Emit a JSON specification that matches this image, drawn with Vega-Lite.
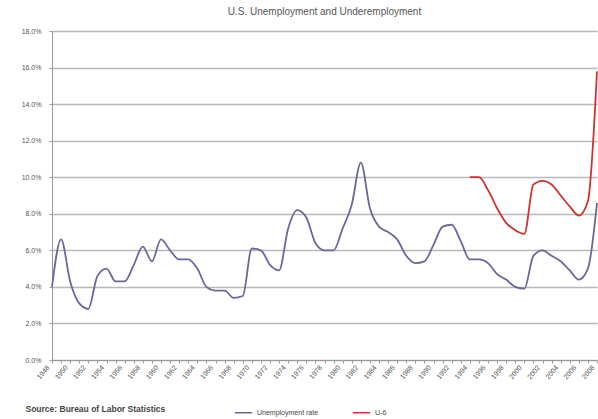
{
  "$schema": "https://vega.github.io/schema/vega-lite/v6.json",
  "autosize": {"type": "none"},
  "width": 545,
  "height": 329,
  "padding": {"left": 52, "top": 31, "right": 1, "bottom": 59},
  "background": "white",
  "title": {
    "text": "U.S. Unemployment and Underemployment",
    "anchor": "middle",
    "fontSize": 10,
    "fontWeight": "normal",
    "font": "Liberation Sans",
    "color": "#555555",
    "offset": 10
  },
  "data": {
    "values": [
      {"year": "1948", "series": "Unemployment rate", "value": 4.0},
      {"year": "1949", "series": "Unemployment rate", "value": 6.6},
      {"year": "1950", "series": "Unemployment rate", "value": 4.3},
      {"year": "1951", "series": "Unemployment rate", "value": 3.1},
      {"year": "1952", "series": "Unemployment rate", "value": 2.8},
      {"year": "1953", "series": "Unemployment rate", "value": 4.6},
      {"year": "1954", "series": "Unemployment rate", "value": 5.0},
      {"year": "1955", "series": "Unemployment rate", "value": 4.3},
      {"year": "1956", "series": "Unemployment rate", "value": 4.3},
      {"year": "1957", "series": "Unemployment rate", "value": 5.2},
      {"year": "1958", "series": "Unemployment rate", "value": 6.2},
      {"year": "1959", "series": "Unemployment rate", "value": 5.4},
      {"year": "1960", "series": "Unemployment rate", "value": 6.6},
      {"year": "1961", "series": "Unemployment rate", "value": 6.0},
      {"year": "1962", "series": "Unemployment rate", "value": 5.5},
      {"year": "1963", "series": "Unemployment rate", "value": 5.5},
      {"year": "1964", "series": "Unemployment rate", "value": 5.0},
      {"year": "1965", "series": "Unemployment rate", "value": 4.0},
      {"year": "1966", "series": "Unemployment rate", "value": 3.8},
      {"year": "1967", "series": "Unemployment rate", "value": 3.8},
      {"year": "1968", "series": "Unemployment rate", "value": 3.4},
      {"year": "1969", "series": "Unemployment rate", "value": 3.5},
      {"year": "1970", "series": "Unemployment rate", "value": 6.1},
      {"year": "1971", "series": "Unemployment rate", "value": 6.0},
      {"year": "1972", "series": "Unemployment rate", "value": 5.2},
      {"year": "1973", "series": "Unemployment rate", "value": 4.9},
      {"year": "1974", "series": "Unemployment rate", "value": 7.2},
      {"year": "1975", "series": "Unemployment rate", "value": 8.2},
      {"year": "1976", "series": "Unemployment rate", "value": 7.8},
      {"year": "1977", "series": "Unemployment rate", "value": 6.4},
      {"year": "1978", "series": "Unemployment rate", "value": 6.0},
      {"year": "1979", "series": "Unemployment rate", "value": 6.0},
      {"year": "1980", "series": "Unemployment rate", "value": 7.2},
      {"year": "1981", "series": "Unemployment rate", "value": 8.5},
      {"year": "1982", "series": "Unemployment rate", "value": 10.8},
      {"year": "1983", "series": "Unemployment rate", "value": 8.3},
      {"year": "1984", "series": "Unemployment rate", "value": 7.3},
      {"year": "1985", "series": "Unemployment rate", "value": 7.0},
      {"year": "1986", "series": "Unemployment rate", "value": 6.6},
      {"year": "1987", "series": "Unemployment rate", "value": 5.7},
      {"year": "1988", "series": "Unemployment rate", "value": 5.3},
      {"year": "1989", "series": "Unemployment rate", "value": 5.4},
      {"year": "1990", "series": "Unemployment rate", "value": 6.3},
      {"year": "1991", "series": "Unemployment rate", "value": 7.3},
      {"year": "1992", "series": "Unemployment rate", "value": 7.4},
      {"year": "1993", "series": "Unemployment rate", "value": 6.5},
      {"year": "1994", "series": "Unemployment rate", "value": 5.5},
      {"year": "1995", "series": "Unemployment rate", "value": 5.5},
      {"year": "1996", "series": "Unemployment rate", "value": 5.3},
      {"year": "1997", "series": "Unemployment rate", "value": 4.7},
      {"year": "1998", "series": "Unemployment rate", "value": 4.4},
      {"year": "1999", "series": "Unemployment rate", "value": 4.0},
      {"year": "2000", "series": "Unemployment rate", "value": 3.9},
      {"year": "2001", "series": "Unemployment rate", "value": 5.7},
      {"year": "2002", "series": "Unemployment rate", "value": 6.0},
      {"year": "2003", "series": "Unemployment rate", "value": 5.7},
      {"year": "2004", "series": "Unemployment rate", "value": 5.4},
      {"year": "2005", "series": "Unemployment rate", "value": 4.9},
      {"year": "2006", "series": "Unemployment rate", "value": 4.4},
      {"year": "2007", "series": "Unemployment rate", "value": 5.0},
      {"year": "2008", "series": "Unemployment rate", "value": 8.6},
      {"year": "1994", "series": "U-6", "value": 10.0},
      {"year": "1995", "series": "U-6", "value": 10.0},
      {"year": "1996", "series": "U-6", "value": 9.3},
      {"year": "1997", "series": "U-6", "value": 8.3},
      {"year": "1998", "series": "U-6", "value": 7.5},
      {"year": "1999", "series": "U-6", "value": 7.1},
      {"year": "2000", "series": "U-6", "value": 6.9},
      {"year": "2001", "series": "U-6", "value": 9.6},
      {"year": "2002", "series": "U-6", "value": 9.8},
      {"year": "2003", "series": "U-6", "value": 9.6},
      {"year": "2004", "series": "U-6", "value": 9.0},
      {"year": "2005", "series": "U-6", "value": 8.4},
      {"year": "2006", "series": "U-6", "value": 7.9},
      {"year": "2007", "series": "U-6", "value": 8.7},
      {"year": "2008", "series": "U-6", "value": 15.8}
    ]
  },
  "mark": {"type": "line", "interpolate": "monotone", "strokeWidth": 1.8},
  "encoding": {
    "x": {
      "field": "year",
      "type": "ordinal",
      "scale": {"type": "point", "padding": 0},
      "axis": {
        "labelAngle": -50,
        "labelAlign": "right",
        "labelBaseline": "middle",
        "labelFontSize": 7,
        "labelColor": "#555555",
        "labelFont": "Liberation Sans",
        "labelExpr": "toNumber(datum.value) % 2 == 0 ? datum.value : ''",
        "labelOffset": -4,
        "labelPadding": 3,
        "tickSize": 3,
        "tickColor": "#999999",
        "domainColor": "#999999",
        "grid": false,
        "title": "Source: Bureau of Labor Statistics",
        "titleAnchor": "start",
        "titleAlign": "left",
        "titleX": -27,
        "titleY": 48,
        "titleBaseline": "middle",
        "titleFontSize": 8.5,
        "titleFontWeight": "bold",
        "titleColor": "#444444",
        "titleFont": "Liberation Sans"
      }
    },
    "y": {
      "field": "value",
      "type": "quantitative",
      "scale": {"domain": [0, 18], "nice": false},
      "axis": {
        "values": [0, 2, 4, 6, 8, 10, 12, 14, 16, 18],
        "labelExpr": "format(datum.value, '.1f') + '%'",
        "labelFontSize": 7,
        "labelColor": "#555555",
        "labelFont": "Liberation Sans",
        "labelPadding": 8,
        "tickSize": 3,
        "tickColor": "#999999",
        "domainColor": "#999999",
        "grid": true,
        "gridColor": "#b8b8b8",
        "gridWidth": 1.3,
        "title": null
      }
    },
    "color": {
      "field": "series",
      "type": "nominal",
      "scale": {"domain": ["Unemployment rate", "U-6"], "range": ["#68689c", "#cc3333"]},
      "legend": {
        "title": null,
        "orient": "none",
        "direction": "horizontal",
        "legendX": 182,
        "legendY": 372,
        "labelFontSize": 7,
        "labelColor": "#444444",
        "labelFont": "Liberation Sans",
        "symbolType": "stroke",
        "symbolSize": 300,
        "symbolStrokeWidth": 1.5,
        "columnPadding": 30
      }
    }
  },
  "config": {"view": {"stroke": null}}
}
